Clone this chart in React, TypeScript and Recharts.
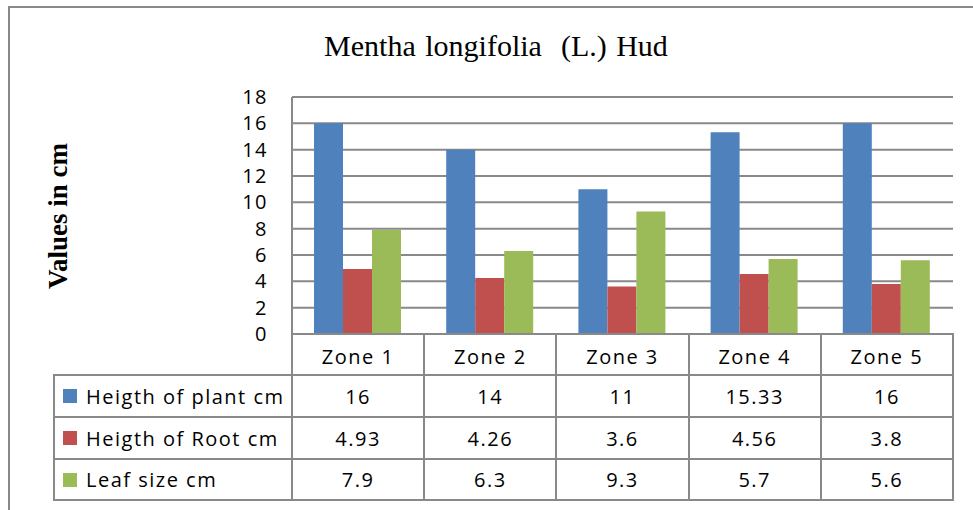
import React from "react";
import { BarChart, Bar, XAxis, YAxis, CartesianGrid } from "recharts";

// zone categories and the three measured series (cm)
const zones = ["Zone 1", "Zone 2", "Zone 3", "Zone 4", "Zone 5"];
const plantHeight = [16, 14, 11, 15.33, 16];
const rootHeight = [4.93, 4.26, 3.6, 4.56, 3.8];
const leafSize = [7.9, 6.3, 9.3, 5.7, 5.6];
const yTicks = [0, 2, 4, 6, 8, 10, 12, 14, 16, 18];

const series = [
  { key: "plant", name: "Heigth of plant cm", color: "#4F81BD", values: plantHeight },
  { key: "root", name: "Heigth of Root cm", color: "#C0504D", values: rootHeight },
  { key: "leaf", name: "Leaf size cm", color: "#9BBB59", values: leafSize },
];

const data = zones.map((zone, i) => ({
  zone,
  plant: plantHeight[i],
  root: rootHeight[i],
  leaf: leafSize[i],
}));

// layout
const W = 973;
const H = 510;
const PLOT_L = 292;
const PLOT_R = 953;
const PLOT_T = 97;
const PLOT_B = 334;
const Y_AXIS_W = 60;
const X_AXIS_H = 41;
const TABLE_L = 54;
const ROW_Y = [334, 375, 417, 459, 500];
const LINE = "#898989";
const SANS = "'Open Sans', sans-serif";
const SERIF = "'Liberation Serif', 'Times New Roman', serif";

const tickStyle = { fontSize: 20, fill: "#000", fontFamily: SANS, letterSpacing: 1.5 };

const colX = (i: number) => PLOT_L + ((PLOT_R - PLOT_L) * i) / zones.length;

const cellStyle = (x0: number, x1: number, y0: number, y1: number): React.CSSProperties => ({
  position: "absolute",
  left: x0 - 1,
  top: y0 - 1,
  width: x1 - x0 + 2,
  height: y1 - y0 + 2,
  border: `2px solid ${LINE}`,
  boxSizing: "border-box",
  display: "flex",
  alignItems: "center",
  justifyContent: "center",
  fontFamily: SANS,
  fontSize: 20,
  letterSpacing: 1.5,
  color: "#000",
});

function DataTable() {
  return (
    <>
      {/* header row: only the zone columns have borders, labels come from the x axis */}
      {zones.map((z, i) => (
        <div key={z} style={cellStyle(colX(i), colX(i + 1), ROW_Y[0], ROW_Y[1])} />
      ))}
      {series.map((s, r) => (
        <React.Fragment key={s.key}>
          <div
            style={{
              ...cellStyle(TABLE_L, PLOT_L, ROW_Y[r + 1], ROW_Y[r + 2]),
              justifyContent: "flex-start",
              paddingLeft: 8,
            }}
          >
            <span
              style={{
                display: "inline-block",
                width: 14,
                height: 14,
                background: s.color,
                marginRight: 9,
                flexShrink: 0,
              }}
            />
            <span style={{ whiteSpace: "nowrap" }}>{s.name}</span>
          </div>
          {s.values.map((v, i) => (
            <div key={i} style={cellStyle(colX(i), colX(i + 1), ROW_Y[r + 1], ROW_Y[r + 2])}>
              {String(v)}
            </div>
          ))}
        </React.Fragment>
      ))}
    </>
  );
}

export default function App() {
  return (
    <div
      style={{
        position: "absolute",
        left: 0,
        top: 0,
        width: W,
        height: H,
        overflow: "hidden",
        background: "#fff",
      }}
    >
      {/* outer chart frame, runs off the right and bottom edges */}
      <div
        style={{
          position: "absolute",
          left: 8,
          top: 6,
          width: 1000,
          height: 600,
          border: `2px solid ${LINE}`,
          boxSizing: "border-box",
        }}
      />
      <div
        style={{
          position: "absolute",
          left: 0,
          top: 31,
          width: 992,
          textAlign: "center",
          fontFamily: SERIF,
          fontSize: 30,
          lineHeight: "30px",
          whiteSpace: "pre",
          wordSpacing: 2,
        }}
      >
        {"Mentha longifolia  (L.) Hud"}
      </div>
      <div
        style={{
          position: "absolute",
          left: 57.5 - 100,
          top: 216 - 13,
          width: 200,
          height: 26,
          lineHeight: "26px",
          textAlign: "center",
          fontFamily: SERIF,
          fontWeight: "bold",
          fontSize: 27,
          transform: "rotate(-90deg)",
        }}
      >
        Values in cm
      </div>
      <div style={{ position: "absolute", left: 0, top: 0 }}>
        <BarChart
          width={W}
          height={H}
          data={data}
          margin={{
            top: PLOT_T,
            right: W - PLOT_R,
            left: PLOT_L - Y_AXIS_W,
            bottom: H - PLOT_B - X_AXIS_H,
          }}
          barCategoryGap={22}
          barGap={0}
        >
          <CartesianGrid vertical={false} stroke={LINE} strokeWidth={2} />
          <XAxis
            dataKey="zone"
            height={X_AXIS_H}
            axisLine={false}
            tickLine={false}
            tickSize={0}
            tickMargin={16}
            interval={0}
            tick={tickStyle}
          />
          <YAxis
            width={Y_AXIS_W}
            domain={[0, 18]}
            ticks={yTicks}
            interval={0}
            axisLine={{ stroke: LINE, strokeWidth: 2 }}
            tickLine={false}
            tickSize={0}
            tickMargin={24}
            tick={tickStyle}
          />
          {series.map((s) => (
            <Bar key={s.key} dataKey={s.key} name={s.name} fill={s.color} isAnimationActive={false} />
          ))}
        </BarChart>
      </div>
      <DataTable />
    </div>
  );
}
